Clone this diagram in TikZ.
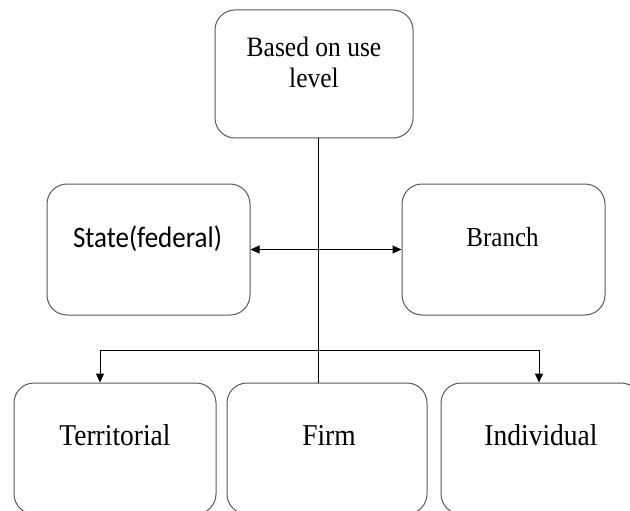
\documentclass[tikz,border=0pt]{standalone}
\usepackage{fontspec}
\setmainfont{Liberation Serif}
\newfontfamily\calib{Carlito}
\usetikzlibrary{arrows.meta}
\newcommand{\tx}[1]{\scalebox{1}[1.1]{#1}}
\tikzset{
  box/.style={draw=black!65, line width=1pt, rounded corners=20pt, inner sep=0pt},
  lbl/.style={anchor=base, inner sep=0pt, text=black},
  conn/.style={draw=black, line width=1pt},
  tip/.style={-{Triangle[length=9pt,width=8pt]}},
}
\begin{document}
\begin{tikzpicture}[x=1pt,y=-1pt]
\useasboundingbox (0,0) rectangle (630,511);
\clip (0,0) rectangle (630,511);
% boxes
\node[box, minimum width=198pt, minimum height=128pt] (top) at (314,74) {};
\node[box, minimum width=203pt, minimum height=131pt] (state) at (148.5,249.5) {};
\node[box, minimum width=203pt, minimum height=131pt] (branch) at (503.5,249.5) {};
\node[box, minimum width=202pt, minimum height=131pt] (terr) at (115,448.5) {};
\node[box, minimum width=200pt, minimum height=131pt] (firm) at (327,448.5) {};
\node[box, minimum width=200pt, minimum height=131pt] (indiv) at (541,448.5) {};
% labels
\node[lbl, align=center, font=\fontsize{25.5}{31}\selectfont] (ttop) at (314,88) {\tx{Based on use}\\[0pt]\tx{level}};
\node[lbl, font=\fontsize{27}{30}\selectfont\calib] (tstate) at (147.5,247) {\tx{State(federal)}};
\node[lbl, font=\fontsize{25}{30}\selectfont] (tbranch) at (502.5,246) {\tx{Branch}};
\node[lbl, font=\fontsize{27.5}{30}\selectfont] (tterr) at (115,445.5) {\tx{Territorial}};
\node[lbl, font=\fontsize{27.5}{30}\selectfont] (tfirm) at (329,445.5) {\tx{Firm}};
\node[lbl, font=\fontsize{27.5}{30}\selectfont] (tindiv) at (541,445.5) {\tx{Individual}};
% connector coordinates
\coordinate (spine) at (318,350);
\coordinate (lft) at (100,350);
\coordinate (rgt) at (539,350);
% connectors
\draw[conn] (top.south -| spine) -- (firm.north -| spine);
\draw[conn, {Triangle[length=9pt,width=8pt]}-{Triangle[length=9pt,width=8pt]}] (state.east) -- (branch.west);
\draw[conn, tip] (spine) -- (lft) -- (terr.north -| lft);
\draw[conn, tip] (spine) -- (rgt) -- (indiv.north -| rgt);
\end{tikzpicture}
\end{document}
